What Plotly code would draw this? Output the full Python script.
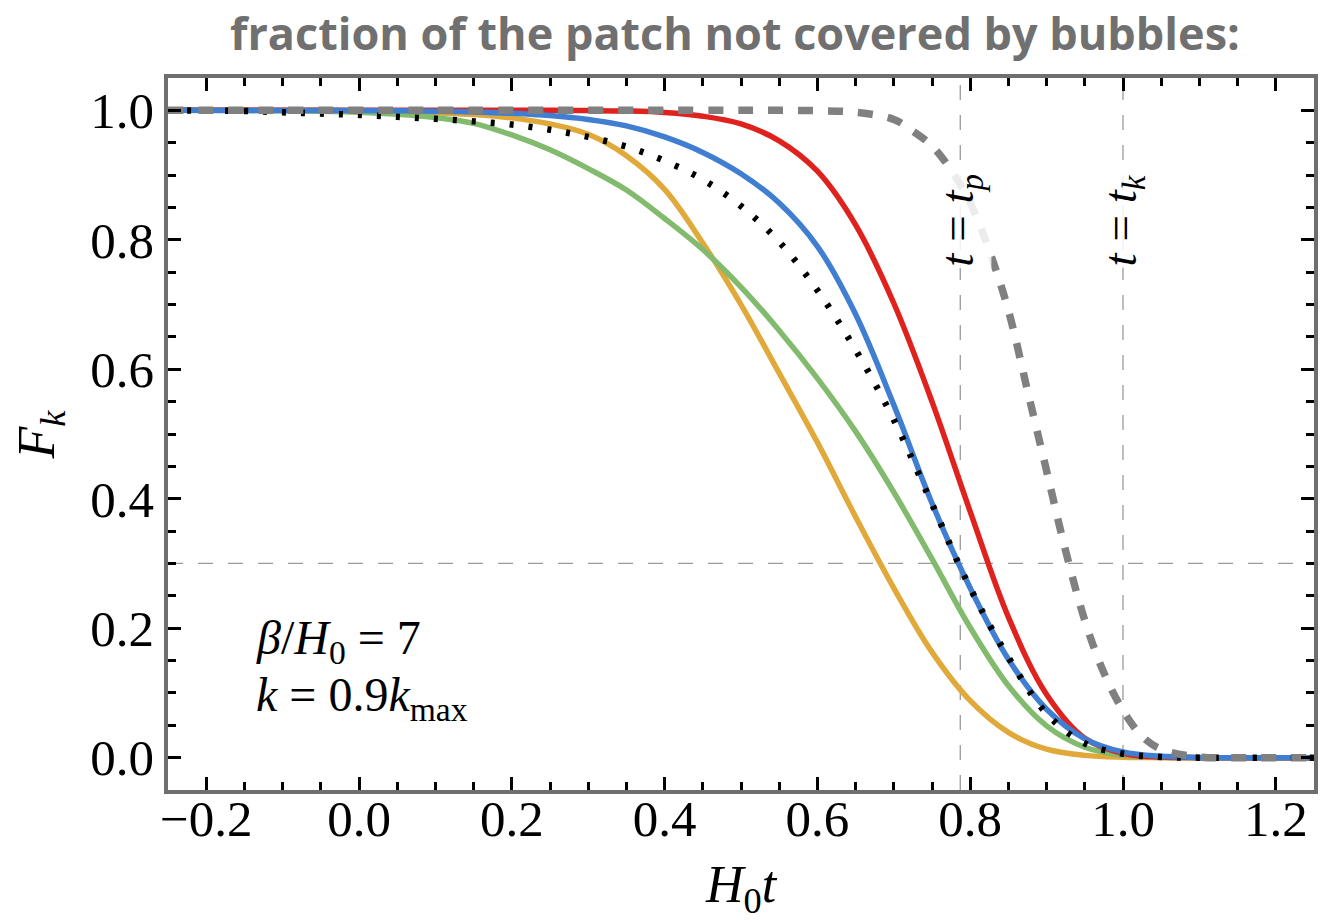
import plotly.graph_objects as go

# H0*t samples and F_k values for each curve
yellow_t = [-0.25, -0.05, 0.0, 0.05, 0.10, 0.15, 0.20, 0.25, 0.30, 0.35, 0.40, 0.45, 0.50,
            0.55, 0.60, 0.65, 0.70, 0.75, 0.80, 0.85, 0.90, 0.95, 1.00, 1.05, 1.25]
yellow_f = [1.0, 1.0, 0.999, 0.998, 0.9965, 0.9936, 0.9884, 0.979, 0.963, 0.930, 0.878, 0.795,
            0.700, 0.594, 0.487, 0.372, 0.262, 0.163, 0.088, 0.039, 0.013, 0.0035, 0.0006,
            0.0, 0.0]

green_t = [-0.25, -0.15, -0.10, -0.05, 0.0, 0.05, 0.10, 0.15, 0.20, 0.25, 0.30, 0.35, 0.40,
           0.45, 0.50, 0.55, 0.60, 0.65, 0.70, 0.75, 0.80, 0.85, 0.90, 0.95, 1.00, 1.05,
           1.10, 1.25]
green_f = [1.0, 0.9997, 0.9993, 0.9985, 0.997, 0.994, 0.989, 0.980, 0.962, 0.939, 0.910,
           0.877, 0.833, 0.785, 0.727, 0.660, 0.586, 0.504, 0.410, 0.307, 0.201, 0.111,
           0.049, 0.016, 0.0035, 0.0005, 0.0, 0.0]

red_t = [-0.25, 0.25, 0.30, 0.35, 0.40, 0.45, 0.50, 0.55, 0.60, 0.65, 0.70, 0.75, 0.80,
         0.85, 0.90, 0.95, 1.00, 1.05, 1.10, 1.25]
red_f = [1.0, 1.0, 0.9997, 0.999, 0.9968, 0.991, 0.979, 0.953, 0.906, 0.823, 0.702, 0.550,
         0.380, 0.217, 0.0976, 0.030, 0.0066, 0.0008, 0.0, 0.0]

blue_t = [-0.25, 0.0, 0.05, 0.10, 0.15, 0.20, 0.25, 0.30, 0.35, 0.40, 0.45, 0.50, 0.55,
          0.60, 0.65, 0.70, 0.75, 0.80, 0.85, 0.90, 0.95, 1.00, 1.05, 1.10, 1.25]
blue_f = [1.0, 0.9997, 0.9994, 0.9987, 0.9975, 0.9954, 0.992, 0.986, 0.976, 0.959, 0.935,
          0.902, 0.857, 0.790, 0.685, 0.545, 0.393, 0.262, 0.152, 0.0747, 0.0291, 0.0088,
          0.002, 0.0003, 0.0]

dotted_t = [-0.25, -0.15, -0.10, -0.05, 0.0, 0.05, 0.10, 0.15, 0.20, 0.25, 0.30, 0.35, 0.40,
            0.45, 0.50, 0.55, 0.60, 0.65, 0.70, 0.75, 0.80, 0.85, 0.90, 0.95, 1.00, 1.05,
            1.10, 1.25]
dotted_f = [1.0, 0.999, 0.997, 0.995, 0.993, 0.990, 0.987, 0.983, 0.978, 0.970, 0.959,
            0.944, 0.922, 0.893, 0.852, 0.797, 0.722, 0.630, 0.522, 0.392, 0.262, 0.155,
            0.068, 0.022, 0.006, 0.001, 0.0, 0.0]

gray_t = [-0.25, 0.50, 0.55, 0.60, 0.65, 0.70, 0.725, 0.75, 0.775, 0.80, 0.825, 0.85, 0.875,
          0.90, 0.925, 0.95, 0.975, 1.00, 1.025, 1.05, 1.10, 1.15, 1.25]
gray_f = [1.0, 1.0, 1.0, 0.9995, 0.997, 0.986, 0.968, 0.945, 0.9075, 0.857, 0.783, 0.691,
          0.567, 0.443, 0.319, 0.212, 0.131, 0.073, 0.033, 0.013, 0.001, 0.0, 0.0]

t_p = 0.787
t_k = 1.0
f_level = 0.3

x_range = [-0.25, 1.25]
y_range = [-0.05, 1.05]
x_ticks = [-0.2, 0.0, 0.2, 0.4, 0.6, 0.8, 1.0, 1.2]
x_tick_text = ["\u22120.2", "0.0", "0.2", "0.4", "0.6", "0.8", "1.0", "1.2"]
y_ticks = [0.0, 0.2, 0.4, 0.6, 0.8, 1.0]
y_tick_text = ["0.0", "0.2", "0.4", "0.6", "0.8", "1.0"]

SERIF = "Liberation Serif"

fig = go.Figure()

# reference lines: F_k = 0.3 and the two characteristic times
fig.add_shape(type="line", xref="x", yref="y", x0=x_range[0], x1=x_range[1],
              y0=f_level, y1=f_level, layer="below",
              line=dict(color="#9a9a9a", width=1.3, dash="15px,15px"))
for tv in (t_p, t_k):
    fig.add_shape(type="line", xref="x", yref="paper", x0=tv, x1=tv, y0=0, y1=1,
                  layer="below", line=dict(color="#9a9a9a", width=1.3, dash="15px,15px"))

curves = [
    (yellow_t, yellow_f, "#E0A93A", 5.5, "solid"),
    (green_t, green_f, "#82BA6E", 5.5, "solid"),
    (red_t, red_f, "#E0221F", 5.5, "solid"),
    (blue_t, blue_f, "#3F7ED0", 5.5, "solid"),
    (dotted_t, dotted_f, "#000000", 6.5, "4px,15px"),
    (gray_t, gray_f, "#808080", 7.5, "15px,15px"),
]
for t, f, color, width, dash in curves:
    fig.add_trace(go.Scatter(
        x=t, y=f, mode="lines", hoverinfo="skip",
        line=dict(color=color, width=width, dash=dash, shape="spline", smoothing=1.0),
    ))

axis_common = dict(
    showgrid=False, zeroline=False,
    showline=True, linecolor="#6f6f6f", linewidth=3.5, mirror="allticks",
    ticks="inside", ticklen=13, tickwidth=3, tickcolor="black",
    tickfont=dict(family=SERIF, size=51, color="black"),
    minor=dict(ticks="inside", ticklen=8, tickwidth=3, tickcolor="black",
               tickmode="linear", tick0=0, dtick=0.05),
)

fig.update_xaxes(range=x_range, tickmode="array", tickvals=x_ticks, ticktext=x_tick_text,
                 ticklabelstandoff=-19, **axis_common)
fig.update_yaxes(range=y_range, tickmode="array", tickvals=y_ticks, ticktext=y_tick_text,
                 **axis_common)

annotations = [
    # chart heading
    dict(text="<b>fraction of the patch not covered by bubbles:</b>", xref="paper", yref="paper",
         x=0.4948, y=1.0646, xanchor="center", yanchor="middle", showarrow=False,
         font=dict(family="Open Sans", size=45, color="#707070")),
    # axis titles
    dict(text="<i>H</i><sub>0</sub><i>t</i>", xref="paper", yref="paper",
         x=0.5, y=-0.139, xanchor="center", yanchor="middle", showarrow=False,
         font=dict(family=SERIF, size=52, color="black")),
    dict(text="<i>F</i><sub><i>k</i></sub>", xref="paper", yref="paper",
         x=-0.1113, y=0.5, xanchor="center", yanchor="middle", showarrow=False,
         textangle=-90, font=dict(family=SERIF, size=52, color="black")),
    # parameters
    dict(text="<i>\u03b2</i>/<i>H</i><sub>0</sub> = 7", xref="x", yref="y",
         x=-0.137, y=0.18, xanchor="left", yanchor="middle", showarrow=False,
         font=dict(family=SERIF, size=48, color="black")),
    dict(text="<i>k</i> = 0.9<i>k</i><sub>max</sub>", xref="x", yref="y",
         x=-0.137, y=0.092, xanchor="left", yanchor="middle", showarrow=False,
         font=dict(family=SERIF, size=48, color="black")),
    # time markers
    dict(text="<i>t</i> = <i>t</i><sub><i>p</i></sub>", xref="x", yref="y",
         x=t_p, y=0.83, xanchor="center", yanchor="middle", showarrow=False,
         textangle=-90, bgcolor="rgba(255,255,255,0.85)",
         font=dict(family=SERIF, size=47, color="black")),
    dict(text="<i>t</i> = <i>t</i><sub><i>k</i></sub>", xref="x", yref="y",
         x=t_k, y=0.83, xanchor="center", yanchor="middle", showarrow=False,
         textangle=-90, bgcolor="rgba(255,255,255,0.85)",
         font=dict(family=SERIF, size=47, color="black")),
]

fig.update_layout(
    width=1320, height=924,
    margin=dict(l=168, r=2, t=78, b=134),
    paper_bgcolor="white", plot_bgcolor="white",
    showlegend=False,
    annotations=annotations,
)

fig.write_html("out.html")
